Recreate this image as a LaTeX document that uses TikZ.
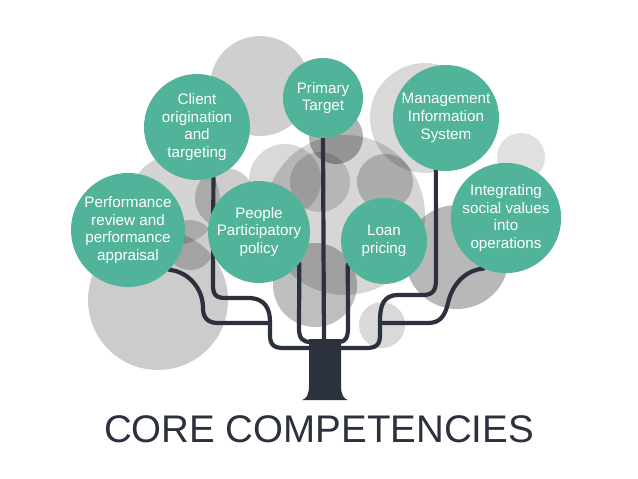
\documentclass[tikz,border=0pt]{standalone}
\usepackage{fontspec}
\setmainfont{Liberation Sans}
\pgfdeclarelayer{bg}
\pgfdeclarelayer{mid}
\pgfsetlayers{bg,mid,main}
\definecolor{leafgreen}{HTML}{50B39A}
\definecolor{bark}{HTML}{2B313D}
\begin{document}
\begin{tikzpicture}[x=1pt,y=-1pt,
  leaf/.style={circle, fill=leafgreen, text=white, align=center, inner sep=0pt,
    font=\fontsize{15.2}{17.8}\selectfont},
  branch/.style={draw=bark, line width=4.2pt, line cap=round, line join=round},
  blob/.style={fill=black, fill opacity=#1}]
\useasboundingbox (0,0) rectangle (638,479);

% leaves
\node[leaf, minimum size=106pt] (client) at (197,127) {Client\\origination\\and\\targeting};
\node[leaf, minimum size=80pt] (primary) at (323,98) {Primary\\Target};
\node[leaf, minimum size=106pt] (mis) at (446,118) {Management\\Information\\System};
\node[leaf, minimum size=114pt] (perf) at (128,230) {Performance\\review and\\performance\\appraisal};
\node[leaf, minimum size=102pt] (people) at (259,232) {People\\Participatory\\policy};
\node[leaf, minimum size=86pt] (loan) at (384,241) {Loan\\pricing};
\node[leaf, minimum size=110pt] (integ) at (506,218) {Integrating\\social values\\into\\operations};

\node[font=\fontsize{38.5}{40}\selectfont, text=bark, inner sep=0pt] (title) at (319,429) {CORE COMPETENCIES};

% trunk
\coordinate (tl) at (311,348);
\coordinate (tr) at (339,348);
\coordinate (tt) at (324,345);
\coordinate (tli) at (311,342);
\coordinate (tri) at (339,342);

\begin{pgfonlayer}{bg}
\fill[blob=0.19] (260,86) circle[radius=50pt];
\fill[blob=0.20] (158,300) circle[radius=70pt];
\fill[blob=0.15] (425,118) circle[radius=55pt];
\fill[blob=0.12] (521,157) circle[radius=24pt];
\fill[blob=0.28] (457,257) circle[radius=52pt];
\fill[blob=0.15] (382,325) circle[radius=23pt];
\fill[blob=0.25] (315,285) circle[radius=42pt];
\fill[blob=0.30] (336,137) circle[radius=27pt];
\fill[blob=0.15] (285,180) circle[radius=36pt];
\fill[blob=0.16] (345,215) circle[radius=80pt];
\fill[blob=0.20] (385,182) circle[radius=28pt];
\fill[blob=0.20] (225,198) circle[radius=30pt];
\fill[blob=0.17] (175,200) circle[radius=45pt];
\fill[blob=0.15] (320,182) circle[radius=30pt];
\fill[blob=0.20] (190,245) circle[radius=25pt];
\end{pgfonlayer}

\begin{pgfonlayer}{mid}
\fill[bark] (309,339) -- (341,339) -- (341,386) .. controls (341,395) and (344,399) .. (348,400)
  -- (302,400) .. controls (306,399) and (309,395) .. (309,386) -- cycle;
\draw[branch] (primary.south) -- (tt);
\draw[branch] (people.-38) -- (299,328) .. controls (299,338) and (302,342) .. (tli);
\draw[branch] (loan.-147) -- (348,328) .. controls (348,338) and (345,342) .. (tri);
\draw[branch] (client.-72) -- (213,285) .. controls (213,295) and (216,298) .. (226,298)
  -- (248,298) .. controls (266,298) and (270,310) .. (270,322) -- (270,335)
  .. controls (270,345) and (274,348) .. (284,348) -- (tl);
\draw[branch] (perf.-44) .. controls (190,272) and (203,290) .. (203,308)
  .. controls (203,318) and (208,323) .. (218,323) -- (270,323);
\draw[branch] (mis.-101) -- (436,280) .. controls (436,290) and (433,295) .. (423,295)
  -- (398,295) .. controls (384,295) and (380,305) .. (380,320) -- (380,335)
  .. controls (380,345) and (376,348) .. (366,348) -- (tr);
\draw[branch] (integ.-114) .. controls (465,270) and (452,285) .. (448,303)
  .. controls (445,316) and (440,323) .. (428,323) -- (380,323);
\end{pgfonlayer}
\end{tikzpicture}
\end{document}
